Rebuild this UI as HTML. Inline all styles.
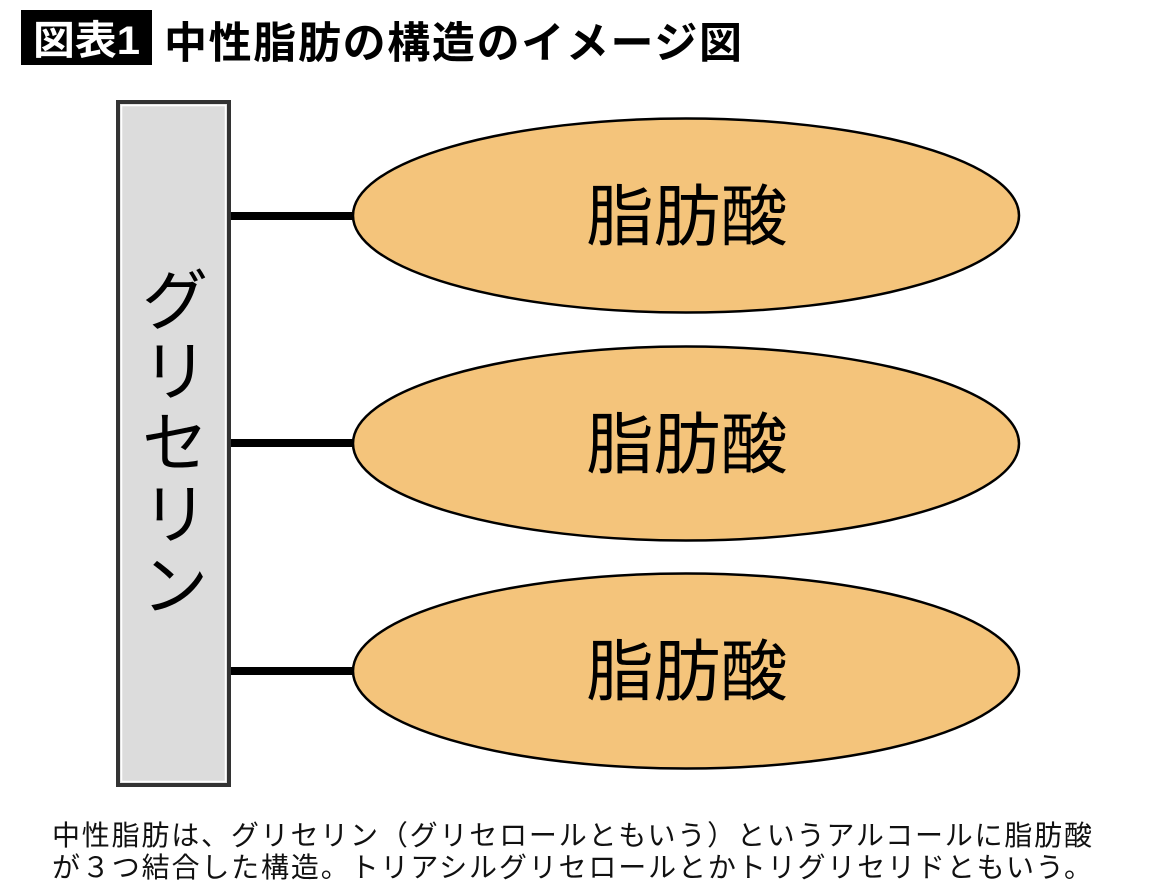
<!DOCTYPE html>
<html>
<head>
<meta charset="utf-8">
<style>
  html,body{margin:0;padding:0;background:#fff;}
  body{width:1160px;height:892px;overflow:hidden;}
  svg{display:block;}
  .jp{font-family:"Liberation Sans","Noto Sans CJK JP",sans-serif;}
</style>
</head>
<body>
<svg width="1160" height="892" viewBox="0 0 1160 892" xmlns="http://www.w3.org/2000/svg">
  <!-- Title -->
  <rect x="21" y="10" width="131" height="55" fill="#000"/>
  <text class="jp" x="33" y="54" font-size="40" font-weight="700" fill="#fff" textLength="107" lengthAdjust="spacingAndGlyphs">図表1</text>
  <text class="jp" x="164" y="58" font-size="43" font-weight="700" fill="#000" textLength="578" lengthAdjust="spacing">中性脂肪の構造のイメージ図</text>

  <!-- Glycerin bar -->
  <rect x="118" y="102" width="111" height="683" fill="#dcdcdc" stroke="#333" stroke-width="4"/>
  <rect x="121.5" y="105.5" width="104" height="676" fill="none" stroke="#fff" stroke-width="1.5"/>
  <g class="jp" font-size="66" fill="#000" text-anchor="middle">
    <text x="175" y="324">グ</text>
    <text x="175" y="395">リ</text>
    <text x="175" y="466">セ</text>
    <text x="175" y="538">リ</text>
    <text x="175" y="609">ン</text>
  </g>

  <!-- Connectors -->
  <rect x="231" y="212" width="124" height="8" fill="#000"/>
  <rect x="231" y="439" width="124" height="8" fill="#000"/>
  <rect x="231" y="667" width="124" height="8" fill="#000"/>

  <!-- Ellipses -->
  <ellipse cx="686" cy="215.5" rx="333" ry="97" fill="#f4c47b" stroke="#000" stroke-width="2.5"/>
  <ellipse cx="686" cy="443.5" rx="333" ry="97" fill="#f4c47b" stroke="#000" stroke-width="2.5"/>
  <ellipse cx="686" cy="671" rx="333" ry="97.5" fill="#f4c47b" stroke="#000" stroke-width="2.5"/>

  <g class="jp" font-size="67" fill="#000" text-anchor="middle">
    <text x="687" y="240">脂肪酸</text>
    <text x="687" y="468">脂肪酸</text>
    <text x="687" y="695">脂肪酸</text>
  </g>

  <!-- Caption -->
  <g class="jp" font-size="28" fill="#111">
    <text x="52" y="845" textLength="1040" lengthAdjust="spacing">中性脂肪は、グリセリン（グリセロールともいう）というアルコールに脂肪酸</text>
    <text x="52" y="877" textLength="1040" lengthAdjust="spacing">が３つ結合した構造。トリアシルグリセロールとかトリグリセリドともいう。</text>
  </g>
</svg>
</body>
</html>
